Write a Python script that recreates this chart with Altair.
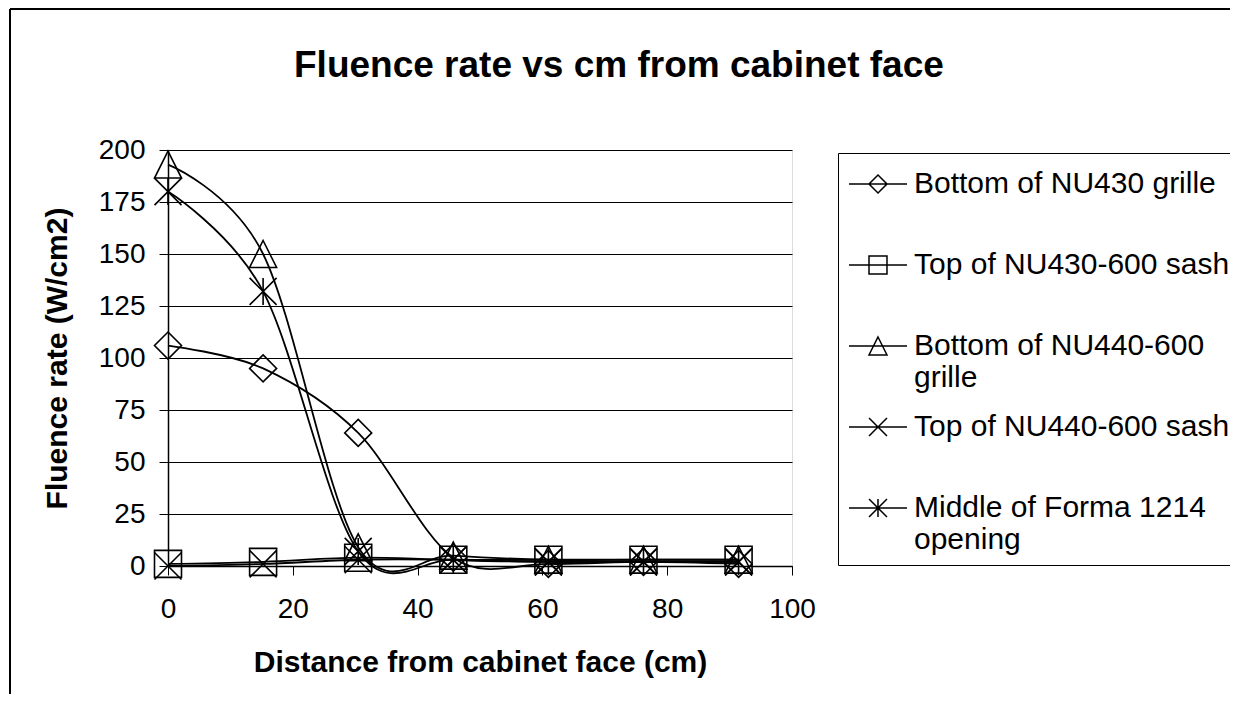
import altair as alt
import pandas as pd

# ---------------- data ----------------
x_cm = [0, 15.24, 30.48, 45.72, 60.96, 76.2, 91.44]
series_names = [
    "Bottom of NU430 grille",
    "Top of NU430-600 sash",
    "Bottom of NU440-600 grille",
    "Top of NU440-600 sash",
    "Middle of Forma 1214 opening",
]
bottom_nu430_grille = [106, 95, 64, 4, 1, 2, 1]
top_nu430_600_sash = [1, 2, 4, 3, 3, 3, 3]
bottom_nu440_600_grille = [193, 150, 9, 5, 3, 3, 3]
top_nu440_600_sash = [0, 1, 3, 3, 2, 2, 2]
middle_forma_1214 = [180, 132, 7, 3, 2, 2, 2]
legend_lines = [
    ["Bottom of NU430 grille"],
    ["Top of NU430-600 sash"],
    ["Bottom of NU440-600", "grille"],
    ["Top of NU440-600 sash"],
    ["Middle of Forma 1214", "opening"],
]
y_ticks = [0, 25, 50, 75, 100, 125, 150, 175, 200]
x_ticks = [0, 20, 40, 60, 80, 100]

all_values = [bottom_nu430_grille, top_nu430_600_sash, bottom_nu440_600_grille,
              top_nu440_600_sash, middle_forma_1214]
rows = []
for name, vals in zip(series_names, all_values):
    for xv, v in zip(x_cm, vals):
        rows.append({"distance": xv, "fluence": v, "series": name})
df = pd.DataFrame(rows)

FONT = "Liberation Sans"

# ---------------- marker shapes (unit paths) ----------------
shape_polys = [
    [([(0, -1), (1, 0), (0, 1), (-1, 0)], True)],                    # diamond
    [([(-1, -1), (1, -1), (1, 1), (-1, 1)], True)],                  # square
    [([(0, -1), (1, 1), (-1, 1)], True)],                            # triangle
    [([(-1, -1), (1, 1)], False), ([(-1, 1), (1, -1)], False)],      # x
    [([(-1, -1), (1, 1)], False), ([(-1, 1), (1, -1)], False),
     ([(0, -1), (0, 1)], False)],                                    # asterisk
]


def to_path(polys, k=1.0, dy=0.0):
    out = []
    for pts, closed in polys:
        seg = "M" + "L".join(f"{px * k:.3f},{py * k + dy:.3f}" for px, py in pts)
        if closed:
            seg += "Z"
        out.append(seg)
    return "".join(out)


plot_paths = [to_path(p) for p in shape_polys]
LK = 0.31     # marker half-size relative to legend line half-length
LS = -0.31    # vertical shift of legend symbol
legend_paths = [f"M-1,{LS:.3f}L1,{LS:.3f}" + to_path(p, LK, LS) for p in shape_polys]

label_expr = ""
for name, ln in zip(series_names, legend_lines):
    if len(ln) > 1:
        arr = "[" + ",".join("'" + s + "'" for s in ln) + "]"
        label_expr += f"datum.label === '{name}' ? {arr} : "
label_expr += "datum.label"

# ---------------- layers ----------------
base = alt.Chart(df)

x_enc = alt.X(
    "distance:Q",
    scale=alt.Scale(domain=[0, 100], nice=False, zero=False),
    axis=alt.Axis(
        values=x_ticks, grid=False, tickSize=9, tickColor="black", tickWidth=1,
        labelFont=FONT, labelFontSize=28, labelColor="black", labelPadding=20,
        labelFlush=False,
        domainColor="black", domainWidth=1.5,
        title="Distance from cabinet face (cm)", titleFont=FONT, titleFontSize=30,
        titleFontWeight="bold", titleColor="black", titleX=312, titleY=105,
        titleAlign="center", titleBaseline="alphabetic",
    ),
)
y_enc = alt.Y(
    "fluence:Q",
    scale=alt.Scale(domain=[0, 200], nice=False),
    axis=alt.Axis(
        values=y_ticks, grid=True, gridColor="black", gridWidth=1,
        tickSize=9, tickColor="black", tickWidth=1,
        labelFont=FONT, labelFontSize=28, labelColor="black", labelPadding=14,
        labelFlush=False,
        domainColor="black", domainWidth=1.5,
        title="Fluence rate (W/cm2)", titleFont=FONT, titleFontSize=30,
        titleFontWeight="bold", titleColor="black", titleX=-102, titleY=208,
        titleAngle=270, titleAlign="center", titleBaseline="alphabetic",
    ),
)

lines = base.mark_line(interpolate="cardinal", color="black", strokeWidth=1.8).encode(
    x=x_enc, y=y_enc, detail="series:N"
)

points = base.mark_point(filled=False, color="black", strokeWidth=1.6, size=729, opacity=1).encode(
    x="distance:Q",
    y="fluence:Q",
    shape=alt.Shape("series:N", scale=alt.Scale(domain=series_names, range=plot_paths), legend=None),
)

legend_layer = (
    base.transform_calculate(entry="datum.series")
    .transform_filter("false")
    .mark_point(filled=False, color="black", strokeWidth=1.5, opacity=1)
    .encode(
        shape=alt.Shape(
            "entry:N",
            scale=alt.Scale(domain=series_names, range=legend_paths),
            legend=alt.Legend(
                title=None, orient="none", legendX=670, legendY=3, direction="vertical",
                symbolSize=3364, symbolStrokeWidth=1.5, symbolStrokeColor="black",
                symbolFillColor="transparent", symbolOpacity=1,
                labelFont=FONT, labelFontSize=30, labelColor="black", labelLimit=600,
                labelOffset=6, labelBaseline="alphabetic", labelExpr=label_expr,
                strokeColor="black", fillColor="white", padding=10, rowPadding=13,
                gridAlign="all",
            ),
        )
    )
)

frame_df = pd.DataFrame({"k": [0]})
frame_top = alt.Chart(frame_df).mark_rule(color="black", strokeWidth=2).encode(
    x=alt.value(-158), x2=alt.value(1080), y=alt.value(-141)
)
frame_left = alt.Chart(frame_df).mark_rule(color="black", strokeWidth=2).encode(
    x=alt.value(-158), y=alt.value(-141), y2=alt.value(560)
)

chart = (
    alt.layer(frame_top, frame_left, lines, points, legend_layer)
    .resolve_scale(shape="independent")
    .resolve_legend(shape="independent")
    .properties(
        width=624,
        height=416,
        autosize=alt.AutoSizeParams(type="none"),
        padding={"left": 160, "top": 142, "right": 438, "bottom": 128},
        title=alt.TitleParams(
            text="Fluence rate vs cm from cabinet face", anchor="start", frame="group",
            dx=126, font=FONT, fontSize=37, fontWeight="bold", color="black",
            baseline="alphabetic", offset=-106,
        ),
    )
    .configure_view(fill="#C0C0C0", stroke="#808080", strokeWidth=2)
    .configure(background="white")
)

chart.save("out.html", embed_options={"renderer": "svg", "actions": False})
